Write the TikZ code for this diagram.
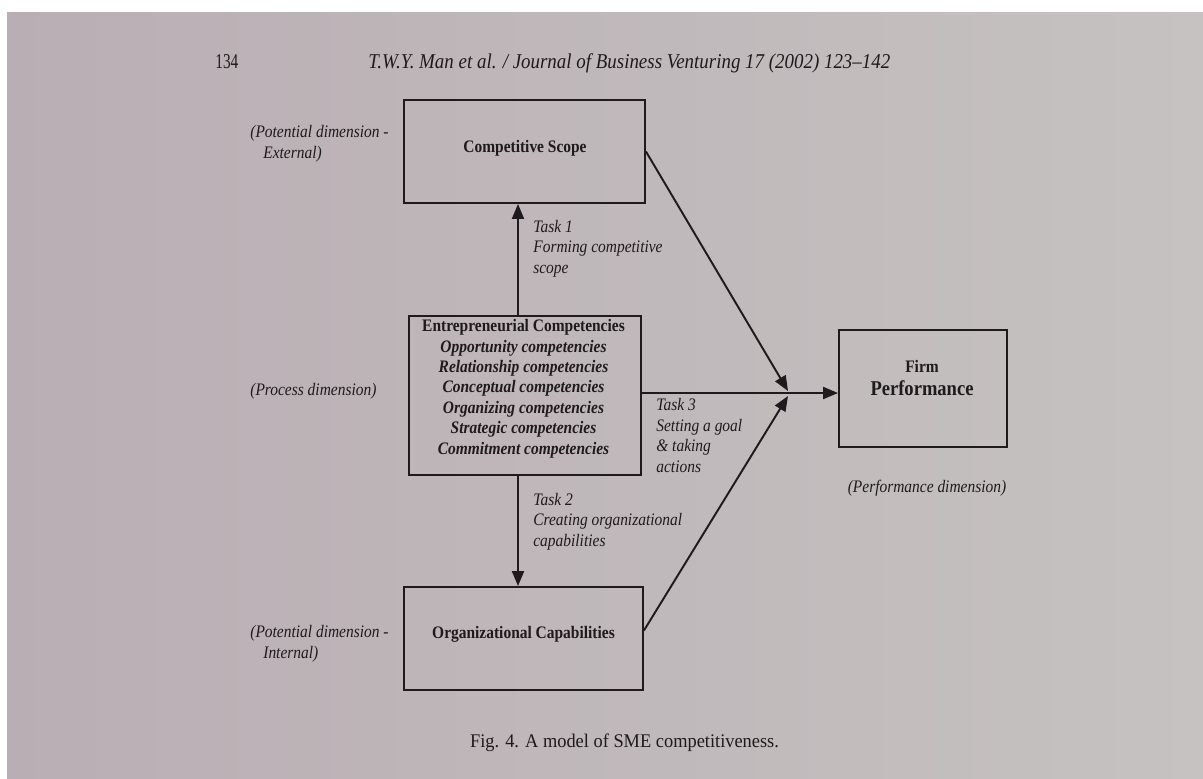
\documentclass[tikz,border=0pt]{standalone}
\usepackage{fontspec}
\usepackage{graphicx}
\setmainfont{Liberation Serif}[FakeStretch=0.88]
\usetikzlibrary{arrows.meta,calc}

\definecolor{ink}{HTML}{1F1A1D}
\definecolor{paperL}{HTML}{B9AEB4}
\definecolor{paperM}{HTML}{C8BFC2}
\definecolor{paperR}{HTML}{C6C2C1}

\begin{document}
\begin{tikzpicture}[x=0.02cm,y=-0.02cm,
  every node/.style={text=ink,inner sep=0pt},
  box/.style={draw=ink,line width=1.1pt,rectangle},
  conn/.style={draw=ink,line width=1.1pt},
  arr/.style={conn,-{Triangle[length=0.30cm,width=0.24cm]}},
  note/.style={font=\fontsize{10}{11.6}\selectfont\itshape,align=left,anchor=base west},
  title/.style={font=\fontsize{10}{11.6}\selectfont\bfseries,align=center,anchor=base},
  head/.style={font=\fontsize{12}{14}\selectfont,anchor=base west}
]
% page
\useasboundingbox (0,0) rectangle (1203,778);
\fill[white] (0,0) rectangle (1203,778);
\shade[left color=paperL,middle color=paperM,right color=paperR] (7,12) rectangle (1203,778);

% running head
\node[head] (pg) at (215,68) {\resizebox{0.46cm}{\height}{134}};
\node[head] (jr) at (368,68) {\resizebox{10.44cm}{\height}{\itshape T.W.Y. Man et al. / Journal of Business Venturing 17 (2002) 123--142}};

% boxes
\node[box,minimum width=4.82cm,minimum height=2.06cm] (cs) at (524.5,151.5) {};
\node[box,minimum width=4.64cm,minimum height=3.18cm] (ent) at (525,395.5) {};
\node[box,minimum width=4.78cm,minimum height=2.06cm] (oc) at (523.5,638.5) {};
\node[box,minimum width=3.36cm,minimum height=2.34cm] (firm) at (923,388.5) {};

% box texts (multi-line nodes are placed by the baseline of their last line)
\node[title] (cst) at (525,152) {Competitive Scope};
\node[title] (entt) at (523.5,454) {Entrepreneurial Competencies\\
  \textit{Opportunity competencies}\\
  \textit{Relationship competencies}\\
  \textit{Conceptual competencies}\\
  \textit{Organizing competencies}\\
  \textit{Strategic competencies}\\
  \textit{Commitment competencies}};
\node[title] (oct) at (523.5,638) {Organizational Capabilities};
\node[title] (firmt) at (922,372) {Firm};
\node[title,font=\fontsize{12}{14}\selectfont\bfseries] (perft) at (922,395) {Performance};

% dimension notes
\node[note] (ext) at (250,158) {(Potential dimension -\\\hspace*{0.26cm}External)};
\node[note] (proc) at (250,395) {(Process dimension)};
\node[note] (int) at (250,658) {(Potential dimension -\\\hspace*{0.26cm}Internal)};
\node[note,anchor=base] (perf) at (927,492) {(Performance dimension)};

% task labels
\node[note] (t1) at (533,273) {Task 1\\Forming competitive\\scope};
\node[note] (t2) at (533,546) {Task 2\\Creating organizational\\capabilities};
\node[note] (t3) at (656,472) {Task 3\\Setting a goal\\\& taking\\actions};

% connectors
\coordinate (tx) at (518,0);
\coordinate (j) at (788,393);
\draw[arr] (ent.north -| tx) -- (cs.south -| tx);
\draw[arr] (ent.south -| tx) -- (oc.north -| tx);
\draw[arr] (ent.east |- j) -- (firm.west |- j);
\draw[arr] (cs.east) -- ($(j)+(0,-2)$);
\draw[arr] ($(oc.east)+(0,-8)$) -- ($(j)+(0,3)$);

% caption
\node[anchor=base,font=\fontsize{11}{13}\selectfont] (cap) at (624.5,747) {\resizebox{6.18cm}{\height}{Fig. 4. A model of SME competitiveness.}};
\end{tikzpicture}
\end{document}
